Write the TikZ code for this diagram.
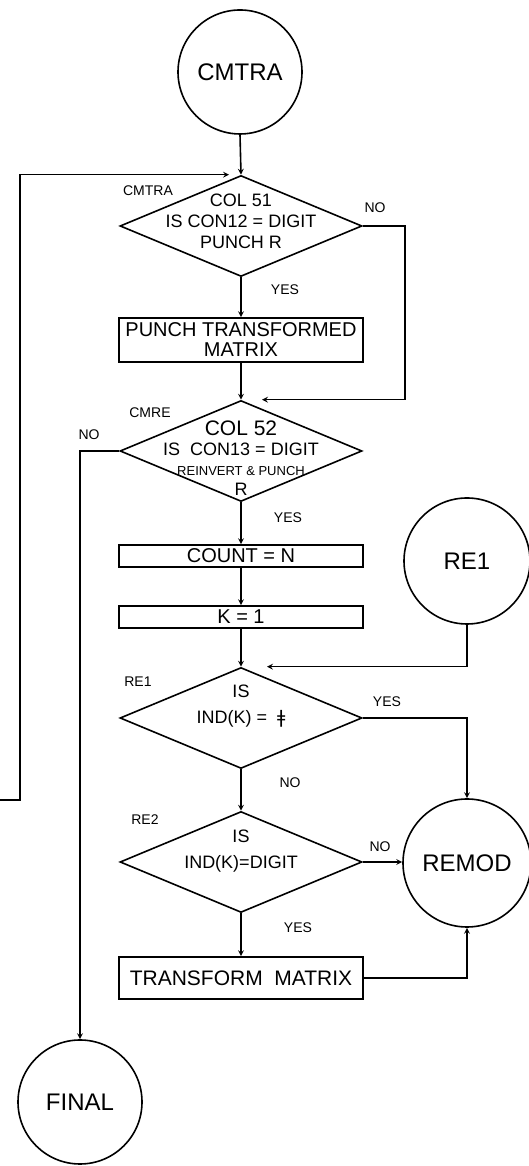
\documentclass[tikz,border=0pt]{standalone}
\usepackage{fontspec}
\setmainfont{Liberation Sans}
\newfontfamily\symfont{DejaVu Sans}
\usetikzlibrary{shapes.geometric}

\begin{document}
\begin{tikzpicture}[x=1pt, y=1pt, >=stealth, line width=1.6pt,
    term/.style={circle, draw, minimum size=124pt, inner sep=0pt, font=\fontsize{24}{28}\selectfont},
    decision/.style={diamond, draw, minimum width=242pt, minimum height=101pt, inner sep=0pt},
    dtext/.style={align=center, inner sep=0pt},
    proc/.style={rectangle, draw, minimum width=244pt, inner sep=0pt, align=center, font=\fontsize{20}{20}\selectfont},
    tag/.style={inner sep=0pt, font=\fontsize{14}{16}\selectfont}]
    \useasboundingbox (0,0) rectangle (529,1166);

    % entry and main column
    \node[term] (cmtra) at (240,1094) {CMTRA};
    \node[decision] (d1) at (241,940) {};
    \node[dtext, font=\fontsize{18}{21}\selectfont] (d1t) at (241,945) {COL 51\\IS CON12 = DIGIT\\PUNCH R};
    \node[proc, minimum height=44pt] (punch) at (241,826) {PUNCH TRANSFORMED\\MATRIX};
    \node[decision] (d2) at (241,715) {};
    \node[dtext, font=\fontsize{18}{20}\selectfont] (d2t) at (241,708)
        {{\fontsize{21}{21}\selectfont COL 52}\\IS\ \ CON13 = DIGIT\\{\fontsize{13}{13}\selectfont REINVERT \& PUNCH}\\R};
    \node[proc, minimum height=22pt] (count) at (241,610) {COUNT = N};
    \node[proc, minimum height=22pt] (k1) at (241,549) {K = 1};
    \node[decision] (d3) at (241,448) {};
    \node[dtext, font=\fontsize{18}{26}\selectfont] (d3t) at (241,460) {IS\\IND(K) =\ \ {\symfont ǂ}};
    \node[decision] (d4) at (241,304) {};
    \node[dtext, font=\fontsize{18}{26}\selectfont] (d4t) at (241,315) {IS\\IND(K)=DIGIT};
    \node[proc, minimum height=42pt, font=\fontsize{21}{21}\selectfont] (tmat) at (241,188) {TRANSFORM\ \ MATRIX};

    % side connectors
    \node[term, minimum size=126pt] (re1) at (467,605) {RE1};
    \node[term, minimum size=128pt] (remod) at (467,303) {REMOD};
    \node[term] (final) at (80,64) {FINAL};
    \coordinate (offpage) at (0,366);

    % labels
    \node[tag] (t1) at (148,975) {CMTRA};
    \node[tag] (t2) at (375,958) {NO};
    \node[tag] (t3) at (285,876) {YES};
    \node[tag] (t4) at (150,753) {CMRE};
    \node[tag] (t5) at (89,731) {NO};
    \node[tag] (t6) at (288,648) {YES};
    \node[tag] (t7) at (138,484) {RE1};
    \node[tag] (t8) at (387,464) {YES};
    \node[tag] (t9) at (290,383) {NO};
    \node[tag] (t10) at (145,346) {RE2};
    \node[tag] (t11) at (380,319) {NO};
    \node[tag] (t12) at (298,238) {YES};

    % flow
    \draw[->] (cmtra.south) -- (d1.north);
    \draw[->, shorten >=12pt] (offpage) -- (20,366) |- (d1.north);
    \draw[->] (d1.south) -- (punch.north);
    \draw[->, shorten >=21pt] (d1.east) -- ++(42,0) |- (d2.north);
    \draw[->] (punch.south) -- (d2.north);
    \draw[->] (d2.west) -| (final.north);
    \draw[->] (d2.south) -- (count.north);
    \draw[->] (count.south) -- (k1.north);
    \draw[->] (k1.south) -- (d3.north);
    \draw[->, shorten >=26pt] (re1.south) |- (d3.north);
    \draw[->] (d3.east) -| (remod.north);
    \draw[->] (d3.south) -- (d4.north);
    \draw[->] (d4.east) -- (d4.east -| remod.west);
    \draw[->] (d4.south) -- (tmat.north);
    \draw[->] (tmat.east) -| (remod.south);
\end{tikzpicture}
\end{document}
